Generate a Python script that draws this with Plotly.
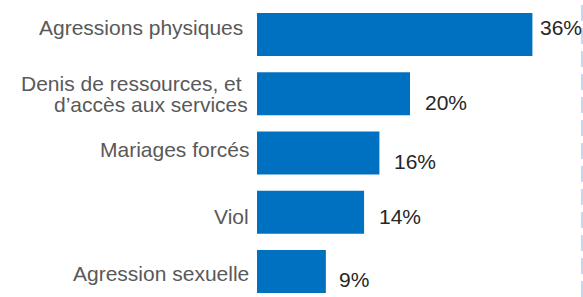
import plotly.graph_objects as go

categories = ["Agressions physiques", "Denis de ressources, et<br>d’accès aux services",
              "Mariages forcés", "Viol", "Agression sexuelle"]
values = [36, 20, 16, 14, 9]
value_labels = ["36%", "20%", "16%", "14%", "9%"]

# style: label offsets (px)
val_dx = [6, 13, 13, 13, 11]
val_dy = [7, -9, -8, -4, -8]
cat_dx = [[-12], [-13, -7], [-6], [-6], [-6]]
cat_dy = [7, 0, 4, -4, -2]

BLUE = "#0070C0"
FONT = "Liberation Sans, Arial, sans-serif"

fig = go.Figure(go.Bar(
    x=values, y=categories, orientation="h",
    marker=dict(color=BLUE, line=dict(width=0)),
    hoverinfo="skip",
))

ann = []
for i, (c, v, t) in enumerate(zip(categories, values, value_labels)):
    ann.append(dict(x=v, y=c, xref="x", yref="y", text=t, showarrow=False,
                    xanchor="left", yanchor="middle", xshift=val_dx[i], yshift=val_dy[i],
                    font=dict(family=FONT, size=21, color="#262626")))
    lines = c.split("<br>")
    n = len(lines)
    for j, ln in enumerate(lines):
        shift = (n - 1) / 2 * 21.5 - j * 21.5
        ann.append(dict(x=0, y=c, xref="paper", yref="y", text=ln, showarrow=False,
                        xanchor="right", yanchor="middle",
                        xshift=cat_dx[i][j], yshift=shift + cat_dy[i],
                        font=dict(family=FONT, size=21, color="#595959")))

fig.update_layout(
    width=583, height=297,
    margin=dict(l=257, r=20, t=0, b=0),
    paper_bgcolor="white", plot_bgcolor="white",
    bargap=0.274,
    showlegend=False,
    annotations=ann,
    xaxis=dict(range=[0, 40], visible=False, fixedrange=True),
    yaxis=dict(type="category", categoryorder="array", categoryarray=categories,
               range=[4.429, -0.584], showticklabels=False, showgrid=False,
               zeroline=False, showline=False, ticks="", fixedrange=True),
    shapes=[dict(type="line", xref="paper", yref="paper", layer="above",
                 x0=325 / 306, x1=325 / 306, y0=0, y1=1,
                 line=dict(color="#C5D8F0", width=2, dash="16px,7px"))],
)

fig.write_html("out.html", config={"displayModeBar": False},
               post_script="document.body.style.margin='0';document.body.style.overflow='hidden';")
